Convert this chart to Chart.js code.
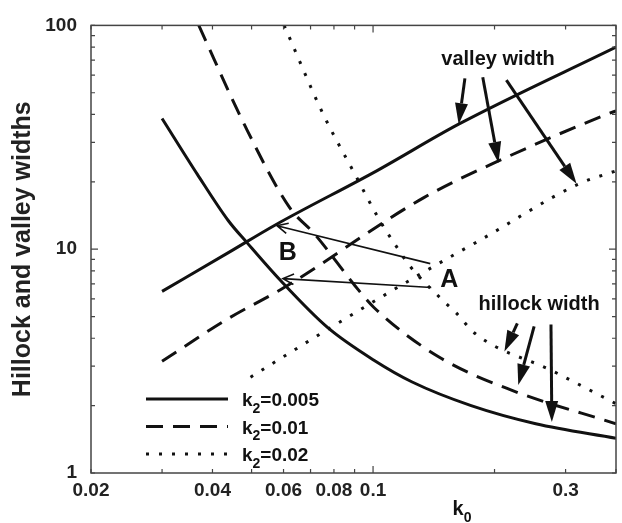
<!DOCTYPE html>
<html>
<head>
<meta charset="utf-8">
<script src="https://cdn.jsdelivr.net/npm/chart.js@4.4.1/dist/chart.umd.min.js"></script>
<style>
  html, body { margin: 0; padding: 0; background: #fff; }
  #chart { display: block; }
</style>
</head>
<body>
<canvas id="chart" width="622" height="523"></canvas>
<script>
// tick values and labels
const xTicks = [0.02, 0.03, 0.04, 0.05, 0.06, 0.07, 0.08, 0.09, 0.1, 0.2, 0.3, 0.4];
const xLabels = [0.02, 0.04, 0.06, 0.08, 0.1, 0.3];
const yTicks = [1, 2, 3, 4, 5, 6, 7, 8, 9, 10, 20, 30, 40, 50, 60, 70, 80, 90, 100];
const yLabels = [1, 10, 100];

// k2 = 0.005
const hillock005K0 = [0.030, 0.0367, 0.0438, 0.0487, 0.059, 0.0771, 0.1005, 0.125, 0.175, 0.253, 0.4];
const hillock005W = [38.4, 21.6, 13.4, 10.7, 7.24, 4.47, 3.19, 2.55, 2.0, 1.66, 1.43];
const valley005K0 = [0.030, 0.0438, 0.0571, 0.1021, 0.163, 0.4];
const valley005W = [6.48, 9.65, 12.8, 22.4, 36.2, 80];

// k2 = 0.01
const hillock01K0 = [0.037, 0.048, 0.0622, 0.0716, 0.0902, 0.1005, 0.146, 0.221, 0.4];
const hillock01W = [100, 36, 15.3, 11.7, 6.87, 5.49, 3.29, 2.34, 1.66];
const valley01K0 = [0.030, 0.0438, 0.0602, 0.1333, 0.2046, 0.38, 0.4];
const valley01W = [3.16, 4.9, 6.74, 16.96, 24.8, 40.1, 41.5];

// k2 = 0.02
const hillock02K0 = [0.0602, 0.0753, 0.0902, 0.104, 0.113, 0.1232, 0.149, 0.1604, 0.179, 0.277, 0.4];
const hillock02W = [100, 40, 21.6, 13.4, 10.6, 8.44, 5.9, 5.21, 4.2, 2.87, 2.04];
const valley02K0 = [0.0497, 0.0608, 0.0839, 0.1094, 0.1604, 0.183, 0.324, 0.4];
const valley02W = [2.68, 3.36, 4.8, 6.4, 9.55, 10.9, 19.6, 22.4];

const legendLabels = ['0.005', '0.01', '0.02'];

// annotation texts and arrows (in data units: [k0, width])
const texts = [
  { text: 'valley width', at: [0.204, 70.5], size: 20 },
  { text: 'hillock width', at: [0.258, 5.66], size: 20 },
  { text: 'A', at: [0.1545, 7.3], size: 25 },
  { text: 'B', at: [0.0615, 9.65], size: 25 },
];
const bigArrows = [
  [[0.1689, 58], [0.163, 36.2]],
  [[0.187, 58.7], [0.2046, 24.3]],
  [[0.214, 56.9], [0.3194, 19.6]],
  [[0.2278, 4.66], [0.2116, 3.49]],
  [[0.2507, 4.52], [0.229, 2.47]],
  [[0.276, 4.61], [0.2774, 1.69]],
];
const thinArrows = [
  [[0.1386, 8.62], [0.0578, 12.73]],
  [[0.1394, 6.74], [0.0598, 7.39]],
];

const INK = '#111';
const solid = [];
const dashed = [17, 10];
const dotted = [3, 10];

function pts(xs, ys) {
  return xs.map((x, i) => ({ x: x, y: ys[i] }));
}

function series(label, xs, ys, dash) {
  return {
    label: label,
    data: pts(xs, ys),
    borderColor: INK,
    borderWidth: 3,
    borderDash: dash,
    borderCapStyle: 'butt',
    borderJoinStyle: 'round',
    pointRadius: 0,
    cubicInterpolationMode: 'monotone',
    fill: false,
  };
}

function drawSubText(ctx, x, y, main, sub, rest, size, align) {
  ctx.save();
  ctx.fillStyle = INK;
  ctx.textBaseline = 'alphabetic';
  const big = 'bold ' + size + 'px "Liberation Sans", Arial, sans-serif';
  const small = 'bold ' + Math.round(size * 0.72) + 'px "Liberation Sans", Arial, sans-serif';
  ctx.font = big;
  const w1 = ctx.measureText(main).width;
  const w3 = ctx.measureText(rest).width;
  ctx.font = small;
  const w2 = ctx.measureText(sub).width;
  let sx = x;
  if (align === 'center') sx = x - (w1 + w2 + w3) / 2;
  ctx.font = big;
  ctx.textAlign = 'left';
  ctx.fillText(main, sx, y);
  ctx.font = small;
  ctx.fillText(sub, sx + w1, y + size * 0.35);
  ctx.font = big;
  ctx.fillText(rest, sx + w1 + w2, y);
  ctx.restore();
}

function filledArrow(ctx, x1, y1, x2, y2) {
  const L = 21, W = 6.5;
  const a = Math.atan2(y2 - y1, x2 - x1);
  const bx = x2 - L * Math.cos(a), by = y2 - L * Math.sin(a);
  ctx.beginPath();
  ctx.moveTo(x1, y1);
  ctx.lineTo(bx, by);
  ctx.lineWidth = 3;
  ctx.stroke();
  ctx.beginPath();
  ctx.moveTo(x2, y2);
  ctx.lineTo(bx + W * Math.sin(a), by - W * Math.cos(a));
  ctx.lineTo(bx - W * Math.sin(a), by + W * Math.cos(a));
  ctx.closePath();
  ctx.fill();
}

function openArrow(ctx, x1, y1, x2, y2) {
  const L = 12, ang = 0.45;
  const a = Math.atan2(y2 - y1, x2 - x1);
  ctx.lineWidth = 1.6;
  ctx.beginPath();
  ctx.moveTo(x1, y1);
  ctx.lineTo(x2, y2);
  ctx.moveTo(x2 - L * Math.cos(a - ang), y2 - L * Math.sin(a - ang));
  ctx.lineTo(x2, y2);
  ctx.lineTo(x2 - L * Math.cos(a + ang), y2 - L * Math.sin(a + ang));
  ctx.stroke();
}

const decorPlugin = {
  id: 'decor',
  afterDatasetsDraw(chart) {
    const ctx = chart.ctx;
    const area = chart.chartArea;
    const xs = chart.scales.x, ys = chart.scales.y;
    const px = (v) => xs.getPixelForValue(v);
    const py = (v) => ys.getPixelForValue(v);

    ctx.save();
    // frame
    ctx.strokeStyle = '#444';
    ctx.lineWidth = 1.5;
    ctx.strokeRect(area.left, area.top, area.right - area.left, area.bottom - area.top);

    // inward ticks on all four sides
    ctx.lineWidth = 1.2;
    ctx.beginPath();
    xTicks.forEach((v) => {
      const x = px(v);
      const len = (v === 0.1) ? 7 : 4;
      ctx.moveTo(x, area.bottom); ctx.lineTo(x, area.bottom - len);
      ctx.moveTo(x, area.top); ctx.lineTo(x, area.top + len);
    });
    yTicks.forEach((v) => {
      const y = py(v);
      const len = (v === 10) ? 7 : 4;
      ctx.moveTo(area.left, y); ctx.lineTo(area.left + len, y);
      ctx.moveTo(area.right, y); ctx.lineTo(area.right - len, y);
    });
    ctx.stroke();

    // arrows
    ctx.strokeStyle = INK;
    ctx.fillStyle = INK;
    bigArrows.forEach(([a, b]) => filledArrow(ctx, px(a[0]), py(a[1]), px(b[0]), py(b[1])));
    thinArrows.forEach(([a, b]) => openArrow(ctx, px(a[0]), py(a[1]), px(b[0]), py(b[1])));

    // annotation texts
    ctx.textAlign = 'center';
    ctx.textBaseline = 'middle';
    texts.forEach((t) => {
      ctx.font = 'bold ' + t.size + 'px "Liberation Sans", Arial, sans-serif';
      ctx.fillText(t.text, px(t.at[0]), py(t.at[1]));
    });

    // legend
    const lx0 = area.left + 55, lx1 = area.left + 137;
    const rows = [solid, dashed, dotted];
    rows.forEach((dash, i) => {
      const y = area.bottom - 74 + i * 27.5;
      ctx.beginPath();
      ctx.setLineDash(dash);
      ctx.lineWidth = 3;
      ctx.moveTo(lx0, y);
      ctx.lineTo(lx1, y);
      ctx.stroke();
      ctx.setLineDash([]);
      drawSubText(ctx, lx1 + 14, y + 7, 'k', '2', '=' + legendLabels[i], 19, 'left');
    });

    // x axis title k0
    drawSubText(ctx, 462, 515, 'k', '0', '', 20, 'center');
    ctx.restore();
  },
};

const tickFont = { family: '"Liberation Sans", Arial, sans-serif', size: 19, weight: 'bold' };

new Chart(document.getElementById('chart'), {
  type: 'line',
  data: {
    datasets: [
      series('k2=0.005 hillock', hillock005K0, hillock005W, solid),
      series('k2=0.005 valley', valley005K0, valley005W, solid),
      series('k2=0.01 hillock', hillock01K0, hillock01W, dashed),
      series('k2=0.01 valley', valley01K0, valley01W, dashed),
      series('k2=0.02 hillock', hillock02K0, hillock02W, dotted),
      series('k2=0.02 valley', valley02K0, valley02W, dotted),
    ],
  },
  options: {
    responsive: false,
    devicePixelRatio: 1,
    animation: false,
    layout: { padding: { top: 24, right: 1, left: 0, bottom: 0 } },
    plugins: {
      legend: { display: false },
      tooltip: { enabled: false },
      title: { display: false },
    },
    scales: {
      x: {
        type: 'logarithmic',
        min: 0.02,
        max: 0.4,
        afterBuildTicks: (scale) => { scale.ticks = xTicks.map((v) => ({ value: v })); },
        afterFit: (scale) => { scale.height = 50; },
        grid: { display: false, drawTicks: false },
        border: { display: false },
        ticks: {
          autoSkip: false,
          maxRotation: 0,
          padding: 6,
          color: '#222',
          font: tickFont,
          callback: (v) => (xLabels.some((l) => Math.abs(l - v) < 1e-9) ? String(v) : ''),
        },
      },
      y: {
        type: 'logarithmic',
        min: 1,
        max: 100,
        afterBuildTicks: (scale) => { scale.ticks = yTicks.map((v) => ({ value: v })); },
        afterFit: (scale) => { scale.width = 91; },
        grid: { display: false, drawTicks: false },
        border: { display: false },
        title: {
          display: true,
          text: 'Hillock and valley widths',
          color: '#222',
          font: { family: '"Liberation Sans", Arial, sans-serif', size: 25, weight: 'bold' },
          padding: { top: 8, bottom: 0 },
        },
        ticks: {
          autoSkip: false,
          padding: 14,
          color: '#222',
          font: tickFont,
          callback: (v) => (yLabels.includes(v) ? String(v) : ''),
        },
      },
    },
  },
  plugins: [decorPlugin],
});
</script>
</body>
</html>
